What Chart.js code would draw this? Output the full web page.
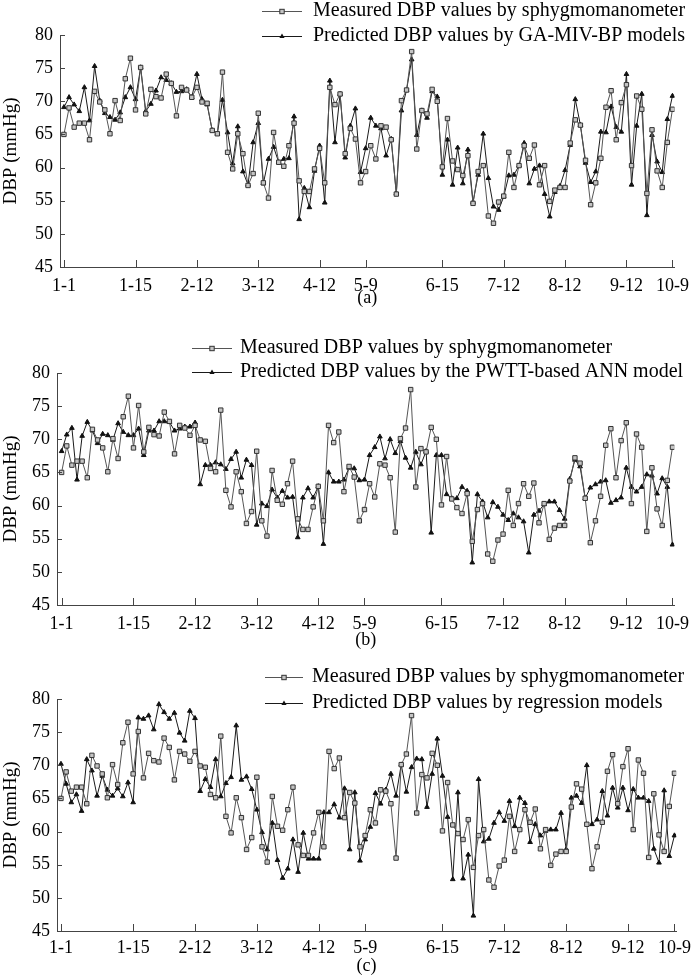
<!DOCTYPE html>
<html>
<head>
<meta charset="utf-8">
<script src="https://cdn.jsdelivr.net/npm/chart.js@4.4.0/dist/chart.umd.min.js"></script>
<style>
  html, body { margin: 0; padding: 0; background: #fff; }
  body { width: 697px; height: 978px; position: relative; overflow: hidden; }
  canvas { position: absolute; left: 0; display: block; }
</style>
</head>
<body>
<canvas id="ca" width="697" height="314" style="top:0px"></canvas>
<canvas id="cb" width="697" height="314" style="top:338px"></canvas>
<canvas id="cc" width="697" height="314" style="top:664px"></canvas>
<script>
// ---------------- data ----------------
const tickLabels = ['1-1','1-15','2-12','3-12','4-12','5-9','6-15','7-12','8-12','9-12','10-9'];
const tickIndex  = [0, 14, 26, 38, 50, 59, 74, 86, 98, 110, 119];

const measured = [
  65.0, 69.0, 66.1, 66.7, 66.7, 64.2, 71.5, 69.9, 68.7, 65.1,
  70.1, 67.1, 73.4, 76.5, 68.7, 75.1, 68.1, 71.8, 70.7, 70.5,
  74.1, 72.7, 67.8, 72.1, 71.7, 70.6, 72.1, 69.9, 69.7, 65.6,
  65.1, 74.4, 62.3, 59.8, 65.1, 62.1, 57.3, 59.1, 68.2, 57.7,
  55.4, 65.3, 60.8, 60.2, 63.3, 66.7, 58.0, 56.4, 56.4, 59.8,
  62.9, 57.7, 72.1, 69.5, 71.1, 62.1, 65.9, 64.3, 57.7, 59.4,
  63.3, 61.3, 66.3, 66.1, 64.2, 56.0, 70.1, 71.7, 77.5, 62.8,
  68.6, 68.1, 71.8, 70.0, 60.1, 67.4, 61.0, 59.7, 58.8, 61.8,
  54.6, 59.4, 60.3, 52.7, 51.6, 54.8, 55.7, 62.3, 57.0, 60.3,
  63.3, 61.4, 63.4, 57.4, 60.3, 54.9, 56.6, 57.0, 57.0, 63.7,
  67.2, 66.4, 61.1, 54.4, 57.7, 61.4, 69.1, 71.6, 64.2, 69.8,
  72.5, 60.3, 70.8, 68.8, 56.1, 65.7, 59.5, 57.0, 63.8, 68.8
];

const gaPred = [
  69.1, 70.6, 69.5, 68.5, 72.1, 67.1, 75.3, 70.1, 68.2, 67.6,
  67.2, 68.3, 70.6, 72.1, 70.3, 75.1, 68.5, 69.6, 71.6, 73.6,
  73.2, 72.7, 71.4, 71.5, 71.8, 70.6, 74.1, 70.3, 69.5, 65.6,
  65.1, 70.2, 65.3, 60.6, 66.2, 59.4, 57.4, 63.8, 66.7, 57.6,
  61.3, 63.1, 60.8, 61.3, 61.4, 67.7, 52.2, 56.9, 54.0, 59.5,
  63.3, 54.7, 73.1, 63.8, 71.1, 61.5, 66.3, 68.9, 59.3, 62.9,
  67.5, 66.3, 65.9, 61.8, 64.3, 56.1, 68.6, 71.7, 76.3, 64.9,
  68.6, 67.5, 71.5, 70.7, 58.9, 64.2, 57.4, 63.0, 57.6, 62.7,
  54.8, 58.9, 65.1, 58.4, 54.1, 53.6, 55.6, 58.8, 58.9, 60.3,
  63.7, 57.6, 59.8, 60.3, 56.0, 52.6, 56.3, 57.2, 59.6, 63.4,
  70.3, 66.4, 60.7, 57.8, 59.4, 65.4, 65.3, 69.2, 66.1, 65.4,
  74.1, 57.4, 66.3, 71.1, 52.8, 64.9, 60.9, 59.3, 67.3, 70.8
];

const annPred = [
  68.2, 70.7, 71.7, 63.9, 70.5, 72.6, 71.3, 69.4, 70.8, 70.6,
  69.9, 72.4, 71.1, 70.6, 70.6, 71.6, 67.6, 71.3, 71.3, 72.7,
  72.7, 72.6, 71.3, 71.6, 71.9, 71.9, 72.5, 63.2, 66.1, 66.1,
  66.5, 66.2, 65.5, 67.0, 68.1, 64.2, 66.9, 66.1, 57.1, 60.3,
  59.9, 62.4, 61.2, 62.2, 61.2, 61.3, 55.2, 61.2, 62.6, 61.2,
  62.9, 54.2, 65.0, 63.6, 63.6, 63.9, 65.7, 65.6, 63.8, 63.9,
  67.6, 68.8, 70.4, 67.1, 70.0, 67.9, 69.7, 67.2, 65.7, 68.1,
  66.2, 68.2, 55.9, 67.6, 67.6, 61.7, 61.1, 61.1, 62.8, 62.2,
  51.4, 61.7, 60.6, 58.2, 60.5, 59.8, 58.6, 57.8, 58.8, 58.2,
  57.6, 52.9, 58.6, 59.2, 60.2, 60.6, 60.6, 59.3, 58.0, 64.0,
  66.9, 65.9, 61.1, 62.7, 63.2, 63.6, 63.8, 60.4, 60.8, 61.2,
  65.7, 62.8, 62.1, 62.8, 64.7, 64.5, 61.8, 64.1, 62.8, 54.1
];

const regPred = [
  70.2, 67.2, 64.4, 65.6, 63.1, 70.9, 69.2, 65.4, 68.4, 66.3,
  65.4, 66.5, 65.3, 67.4, 64.4, 77.2, 77.0, 77.5, 75.4, 79.2,
  78.0, 77.0, 77.9, 74.9, 73.7, 78.2, 77.1, 66.1, 67.9, 66.7,
  70.9, 65.3, 67.3, 68.2, 76.0, 67.8, 68.3, 66.4, 63.3, 59.9,
  57.3, 61.3, 55.7, 53.0, 54.4, 58.8, 53.9, 59.8, 55.9, 55.9,
  55.9, 62.9, 62.9, 64.1, 62.1, 66.5, 57.3, 65.9, 55.6, 58.8,
  60.7, 65.8, 64.2, 66.3, 68.7, 65.4, 70.1, 66.0, 69.7, 71.0,
  70.9, 63.7, 68.7, 74.0, 68.4, 62.2, 52.8, 65.9, 52.9, 56.5,
  47.3, 67.9, 58.5, 58.9, 61.3, 62.9, 61.6, 64.6, 60.8, 65.1,
  64.3, 58.4, 61.1, 59.4, 60.1, 60.3, 60.3, 62.8, 57.3, 65.1,
  65.4, 64.3, 70.0, 61.1, 61.8, 66.1, 62.4, 66.6, 63.6, 66.6,
  63.2, 66.4, 65.1, 65.1, 64.6, 57.4, 55.3, 66.2, 56.3, 59.4
];

const measuredLabel = 'Measured DBP values by sphygmomanometer';
const predLabels = [
  'Predicted DBP values by GA-MIV-BP models',
  'Predicted DBP values by the PWTT-based ANN model',
  'Predicted DBP values by regression models'
];
const captions = ['(a)', '(b)', '(c)'];
const yTitle = 'DBP (mmHg)';

// ---------------- style / layout ----------------
const FONT = '"Liberation Serif", "Times New Roman", serif';
const MEAS_LINE = '#555555', MEAS_FILL = '#c4c4c4', MEAS_EDGE = '#333333';
const PRED_LINE = '#1a1a1a', PRED_FILL = '#111111';
const CANVAS_H = 314, PLOT_BOTTOM = 267;

const panels = [
  { id: 'ca', left: 60, right: 684,   xmin: -0.77, xmax: 119.39, pred: gaPred,
    tickPad: 8, axisH: 42,
    leg: { x0: 262, x1: 302, tx: 313, y1: 11, y2: 36 } },
  { id: 'cb', left: 57, right: 681.5, xmin: -0.90, xmax: 119.35, pred: annPred,
    tickPad: 8, axisH: 46,
    leg: { x0: 192, x1: 232, tx: 240, y1: 10, y2: 34 } },
  { id: 'cc', left: 57, right: 678.7, xmin: -0.77, xmax: 119.33, pred: regPred,
    tickPad: 6, axisH: 46,
    leg: { x0: 265, x1: 303, tx: 312, y1: 13, y2: 39 } }
];

function drawSquare(ctx, x, y, s) {
  ctx.fillStyle = MEAS_FILL; ctx.strokeStyle = MEAS_EDGE; ctx.lineWidth = 1;
  ctx.fillRect(x - s, y - s, 2 * s, 2 * s);
  ctx.strokeRect(x - s, y - s, 2 * s, 2 * s);
}
function drawTri(ctx, x, y, r) {
  ctx.fillStyle = PRED_FILL;
  ctx.beginPath();
  ctx.moveTo(x, y - r);
  ctx.lineTo(x + r * 0.866, y + r * 0.5);
  ctx.lineTo(x - r * 0.866, y + r * 0.5);
  ctx.closePath();
  ctx.fill();
}

const innerTicks = {
  id: 'innerTicks',
  afterDraw(chart) {
    const { ctx, chartArea } = chart;
    const ys = chart.scales.y, xs = chart.scales.x;
    ctx.save();
    ctx.strokeStyle = '#444'; ctx.lineWidth = 1;
    ctx.beginPath();
    ys.ticks.forEach(t => {
      const py = Math.round(ys.getPixelForValue(t.value)) + 0.5;
      ctx.moveTo(chartArea.left, py); ctx.lineTo(chartArea.left + 5, py);
    });
    xs.ticks.forEach(t => {
      const px = Math.round(xs.getPixelForValue(t.value)) + 0.5;
      ctx.moveTo(px, chartArea.bottom); ctx.lineTo(px, chartArea.bottom - 7);
    });
    ctx.stroke();
    ctx.restore();
  }
};

const lineLegend = {
  id: 'lineLegend',
  afterDraw(chart, args, o) {
    const ctx = chart.ctx;
    const ds = chart.data.datasets;
    ctx.save();
    ctx.font = '20px ' + FONT;
    ctx.textBaseline = 'middle';
    const rows = [o.y1, o.y2];
    ds.forEach((d, k) => {
      const y = Math.round(rows[k]) + 0.5;
      ctx.strokeStyle = d.borderColor; ctx.lineWidth = 1;
      ctx.beginPath(); ctx.moveTo(o.x0, y); ctx.lineTo(o.x1, y); ctx.stroke();
      const mx = (o.x0 + o.x1) / 2;
      if (k === 0) drawSquare(ctx, mx, y, 2.2); else drawTri(ctx, mx, y, 3);
      ctx.fillStyle = '#000';
      ctx.fillText(d.label, o.tx, rows[k]);
    });
    ctx.restore();
  }
};

panels.forEach((p, n) => {
  new Chart(document.getElementById(p.id), {
    type: 'line',
    data: {
      datasets: [
        { label: measuredLabel,
          data: measured.map((v, i) => ({ x: i, y: v })),
          borderColor: MEAS_LINE, borderWidth: 1, tension: 0, fill: false,
          pointStyle: 'rect', pointRadius: 3.1,
          pointBackgroundColor: MEAS_FILL, pointBorderColor: MEAS_EDGE, pointBorderWidth: 1 },
        { label: predLabels[n],
          data: p.pred.map((v, i) => ({ x: i, y: v })),
          borderColor: PRED_LINE, borderWidth: 1, tension: 0, fill: false,
          pointStyle: 'triangle', pointRadius: 2.7,
          pointBackgroundColor: PRED_FILL, pointBorderColor: PRED_FILL, pointBorderWidth: 1 }
      ]
    },
    options: {
      responsive: false, animation: false, devicePixelRatio: 1, events: [],
      layout: { padding: { top: 35, left: 0, right: 697 - p.right,
                           bottom: CANVAS_H - PLOT_BOTTOM - p.axisH } },
      plugins: { legend: { display: false }, tooltip: { enabled: false }, lineLegend: p.leg },
      scales: {
        x: {
          type: 'linear', min: p.xmin, max: p.xmax,
          grid: { display: false, drawTicks: false },
          border: { display: true, color: '#444', width: 1 },
          afterBuildTicks: s => { s.ticks = tickIndex.map(v => ({ value: v })); },
          afterFit: s => { s.height = p.axisH; },
          ticks: {
            autoSkip: false, maxRotation: 0, padding: p.tickPad, color: '#000',
            font: { family: FONT, size: 18 },
            callback: v => { const k = tickIndex.indexOf(v); return k >= 0 ? tickLabels[k] : ''; }
          },
          title: { display: true, text: captions[n], color: '#000',
                   font: { family: FONT, size: 18 }, padding: { top: 0, bottom: 0 } }
        },
        y: {
          min: 45, max: 80,
          grid: { display: false, drawTicks: false },
          border: { display: true, color: '#444', width: 1 },
          afterFit: s => { s.width = p.left; },
          ticks: { stepSize: 5, padding: 7, color: '#000', font: { family: FONT, size: 18 } },
          title: { display: true, text: yTitle, color: '#000',
                   font: { family: FONT, size: 19 }, padding: 0 }
        }
      }
    },
    plugins: [innerTicks, lineLegend]
  });
});
</script>
</body>
</html>
